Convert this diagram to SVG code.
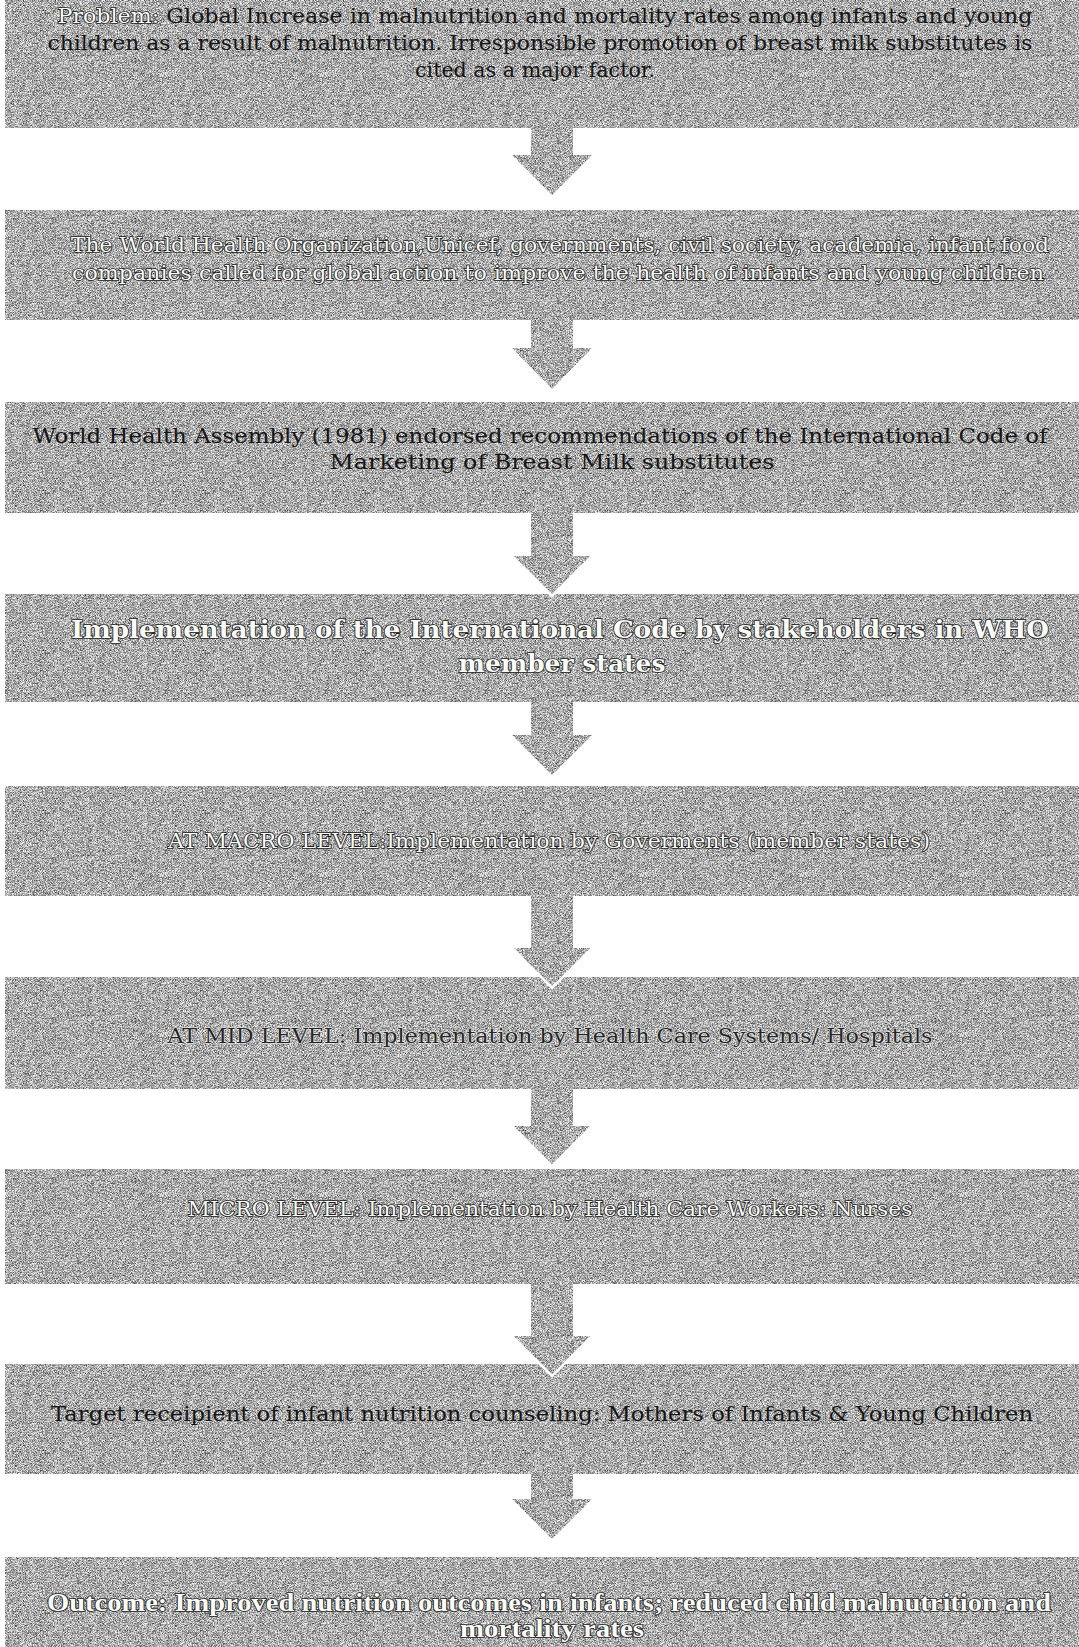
<svg xmlns="http://www.w3.org/2000/svg" width="1079" height="1647" viewBox="0 0 1079 1647">
  <defs>
    <filter id="grain" x="0" y="0" width="1" height="1" color-interpolation-filters="sRGB">
      <feTurbulence type="fractalNoise" baseFrequency="1.6" numOctaves="1" seed="7" result="t"/>
      <feColorMatrix in="t" type="matrix" values="1 0 0 0 0  1 0 0 0 0  1 0 0 0 0  0 0 0 0 1" result="g"/>
      <feComponentTransfer in="g" result="c">
        <feFuncR type="linear" slope="1.5" intercept="-0.08"/>
        <feFuncG type="linear" slope="1.5" intercept="-0.08"/>
        <feFuncB type="linear" slope="1.5" intercept="-0.08"/>
      </feComponentTransfer>
      <feComposite in="c" in2="SourceAlpha" operator="in"/>
    </filter>
  </defs>
  <style>
    .box { fill: #b0b0b0; filter: url(#grain); }
    .arrow { fill: #b0b0b0; filter: url(#grain); }
    .arrow-o { fill: none; stroke: #ffffff; stroke-width: 2.5; stroke-linejoin: miter; }
    text { font-family: "DejaVu Serif", "Liberation Serif", serif; font-size: 21px; text-anchor: middle; }
    .dark { fill: #161616; }
    .light { fill: #ffffff; stroke: #1e1e1e; stroke-width: 1.7; paint-order: stroke; }
    .engr { fill: #262626; stroke: #f0f0f0; stroke-width: 0.9; paint-order: stroke; }
    .big { font-size: 25px; font-weight: bold; }
    .bold { font-family: "Liberation Serif", "DejaVu Serif", serif; font-weight: bold; font-size: 25px; }
  </style>
  <rect width="1079" height="1647" fill="#ffffff"/>

  <g id="node1">
    <rect class="box" x="5" y="0" width="1074" height="128"/>
    <text x="545" y="23" textLength="975" lengthAdjust="spacingAndGlyphs"><tspan class="light">Problem:</tspan><tspan class="dark"> Global Increase in malnutrition and mortality rates among infants and young</tspan></text>
    <text class="dark" x="540" y="50" textLength="985" lengthAdjust="spacingAndGlyphs">children as a result of malnutrition. Irresponsible promotion of breast milk substitutes is</text>
    <text class="dark" x="535" y="77" textLength="240" lengthAdjust="spacingAndGlyphs">cited as a major factor.</text>
  </g>

  <g id="node2">
    <rect class="box" x="5" y="210" width="1074" height="110"/>
    <text class="light" x="560" y="252" textLength="978" lengthAdjust="spacingAndGlyphs">The World Health Organization,Unicef, governments, civil society, academia, infant food</text>
    <text class="light" x="558" y="280" textLength="972" lengthAdjust="spacingAndGlyphs">companies called for  global action to improve the health of infants and young children</text>
  </g>

  <g id="node3">
    <rect class="box" x="5" y="402" width="1074" height="111"/>
    <text class="dark" x="540" y="443" textLength="1015" lengthAdjust="spacingAndGlyphs">World Health Assembly  (1981) endorsed recommendations of the International Code of</text>
    <text class="dark" x="552" y="469" textLength="445" lengthAdjust="spacingAndGlyphs">Marketing of Breast Milk substitutes</text>
  </g>

  <g id="node4">
    <rect class="box" x="5" y="594" width="1074" height="108"/>
    <text class="light big" x="560" y="638" textLength="978" lengthAdjust="spacingAndGlyphs">Implementation of the International Code by stakeholders in WHO</text>
    <text class="light big" x="562" y="672" textLength="207" lengthAdjust="spacingAndGlyphs">member states</text>
  </g>

  <g id="node5">
    <rect class="box" x="5" y="786" width="1074" height="110"/>
    <text class="light" x="549" y="848" textLength="762" lengthAdjust="spacingAndGlyphs">AT MACRO LEVEL:Implementation by Goverments (member states)</text>
  </g>

  <g id="node6">
    <rect class="box" x="5" y="977" width="1074" height="112"/>
    <text class="engr" x="550" y="1043" textLength="765" lengthAdjust="spacingAndGlyphs">AT MID LEVEL: Implementation by Health Care Systems/ Hospitals</text>
  </g>

  <g id="node7">
    <rect class="box" x="5" y="1169" width="1074" height="115"/>
    <text class="light" x="550" y="1216" textLength="725" lengthAdjust="spacingAndGlyphs">MICRO LEVEL: Implementation by Health Care Workers: Nurses</text>
  </g>

  <g id="node8">
    <rect class="box" x="5" y="1364" width="1074" height="110"/>
    <text class="dark" x="542" y="1421" textLength="982" lengthAdjust="spacingAndGlyphs">Target  receipient  of infant nutrition counseling: Mothers of Infants &amp; Young Children</text>
  </g>

  <g id="node9">
    <rect class="box" x="5" y="1557" width="1074" height="90"/>
    <text class="light bold" x="549" y="1611" textLength="1004" lengthAdjust="spacingAndGlyphs">Outcome: Improved nutrition outcomes in infants; reduced child malnutrition and</text>
    <text class="light bold" x="552" y="1637" textLength="184" lengthAdjust="spacingAndGlyphs">mortality rates</text>
  </g>

  <g id="connectors">
    <path class="arrow" d="M531 128 H573 V155 H592 L552 195 L512 155 H531 Z"/>
    <path class="arrow" d="M531 320 H573 V348 H592 L552 389 L512 348 H531 Z"/>
    <path class="arrow" d="M531 513 H573 V556 H592 L552 596 L512 556 H531 Z"/>
    <path class="arrow-o" d="M592 556 L552 596 L512 556"/>
    <path class="arrow" d="M531 702 H573 V735 H592 L552 775 L512 735 H531 Z"/>
    <path class="arrow" d="M531 896 H573 V948 H592 L552 988 L512 948 H531 Z"/>
    <path class="arrow-o" d="M592 948 L552 988 L512 948"/>
    <path class="arrow" d="M531 1089 H573 V1126 H592 L552 1166 L512 1126 H531 Z"/>
    <path class="arrow-o" d="M592 1126 L552 1166 L512 1126"/>
    <path class="arrow" d="M531 1284 H573 V1336 H592 L552 1376 L512 1336 H531 Z"/>
    <path class="arrow-o" d="M592 1336 L552 1376 L512 1336"/>
    <path class="arrow" d="M531 1474 H573 V1499 H592 L552 1539 L512 1499 H531 Z"/>
  </g>
</svg>
